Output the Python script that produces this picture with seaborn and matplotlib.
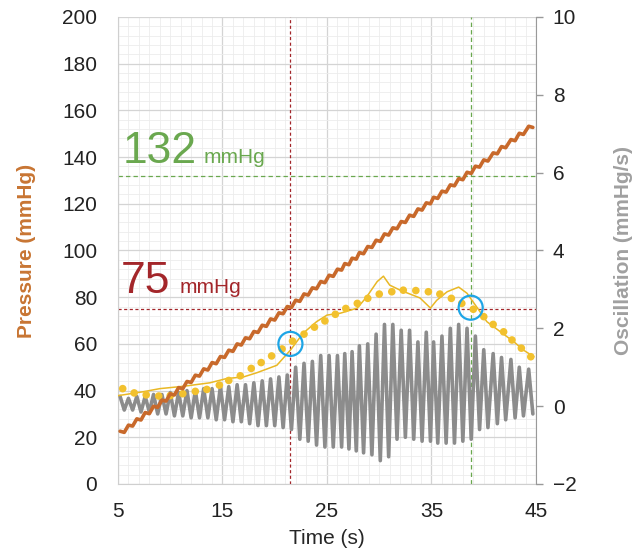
import numpy as np
import pandas as pd
import matplotlib
matplotlib.use('Agg')
import matplotlib.pyplot as plt
import seaborn as sns

# beat-by-beat oscillation (mmHg/s): peak and trough of each pulse
beat_t = [5.2, 6.0, 6.8, 7.6, 8.4, 9.2, 10.0, 10.8, 11.6, 12.4, 13.2, 14.0, 14.8, 15.6, 16.4, 17.2,
          18.0, 18.8, 19.6, 20.4, 21.2, 22.0, 22.8, 23.6, 24.4, 25.2, 26.0, 26.7, 27.4, 28.1, 28.9,
          29.7, 30.5, 31.3, 32.1, 32.9, 33.7, 34.5, 35.2, 36.0, 36.8, 37.6, 38.4, 39.2, 40.0, 40.9,
          41.7, 42.6, 43.4, 44.3]
osc_peak = [0.25, 0.2, 0.25, 0.25, 0.3, 0.3, 0.35, 0.35, 0.4, 0.4, 0.45, 0.45, 0.5, 0.5, 0.55, 0.55,
            0.6, 0.65, 0.7, 0.75, 0.8, 1.0, 1.1, 1.15, 1.3, 1.3, 1.3, 1.35, 1.4, 1.55, 1.6,
            1.85, 2.1, 2.1, 1.95, 1.95, 1.65, 1.9, 1.65, 1.8, 2.0, 2.1, 2.0, 1.8, 1.45, 1.35,
            1.25, 1.2, 1.0, 0.95]
trough_t = [5.6, 6.4, 7.2, 8.0, 8.8, 9.6, 10.4, 11.2, 12.0, 12.8, 13.6, 14.4, 15.2, 16.0, 16.8, 17.6,
            18.4, 19.2, 20.0, 20.8, 21.6, 22.4, 23.2, 24.0, 24.8, 25.6, 26.4, 27.1, 27.8, 28.5, 29.3,
            30.1, 30.9, 31.7, 32.5, 33.3, 34.1, 34.9, 35.6, 36.4, 37.2, 38.0, 38.8, 39.6, 40.4, 41.3,
            42.1, 43.0, 43.8, 44.7]
osc_trough = [-0.1, -0.1, -0.15, -0.15, -0.2, -0.2, -0.25, -0.25, -0.3, -0.3, -0.3, -0.35, -0.35, -0.4,
              -0.4, -0.45, -0.5, -0.5, -0.5, -0.55, -0.6, -0.85, -0.9, -1.0, -1.05, -1.05, -1.05, -1.1,
              -1.15, -1.2, -1.25, -1.4, -1.3, -0.85, -0.8, -0.85, -0.9, -0.9, -0.95, -0.95, -0.95,
              -0.9, -0.85, -0.6, -0.55, -0.45, -0.35, -0.3, -0.25, -0.2]

# cuff pressure (mmHg) at the same peak / trough instants
press_peak = [22.6, 25.2, 27.9, 30.6, 33.3, 35.9, 38.6, 41.3, 43.9, 46.6, 49.3, 52.0, 54.6, 57.3, 60.0,
              62.6, 65.3, 68.0, 70.7, 73.3, 76.0, 78.7, 81.4, 84.0, 86.7, 89.4, 92.0, 94.4, 96.7, 99.1,
              101.7, 104.4, 107.1, 109.7, 112.4, 115.1, 117.8, 120.4, 122.8, 125.4, 128.1, 130.8,
              133.5, 136.1, 138.8, 141.8, 144.5, 147.5, 150.2, 153.2]
press_trough = [22.1, 24.8, 27.4, 30.1, 32.8, 35.5, 38.1, 40.8, 43.5, 46.2, 48.8, 51.5, 54.2, 56.8, 59.5,
                62.2, 64.9, 67.5, 70.2, 72.9, 75.6, 78.2, 80.9, 83.6, 86.2, 88.9, 91.6, 93.9, 96.3, 98.6,
                101.3, 103.9, 106.6, 109.3, 112.0, 114.6, 117.3, 120.0, 122.3, 125.0, 127.7, 130.3,
                133.0, 135.7, 138.3, 141.4, 144.0, 147.0, 149.7, 152.7]

# envelope of the oscillation peaks (thin yellow)
env_t = [5.0, 7.4, 9.0, 11.25, 13.8, 15.4, 17.0, 18.3, 20.2, 21.5, 22.7, 24.0, 25.0, 26.3, 27.9, 28.8,
         29.8, 30.4, 31.0, 32.0, 33.9, 34.9, 35.5, 36.5, 37.6, 38.4, 39.4, 40.3, 41.6, 42.9, 43.8, 44.8]
env_v = [0.27, 0.37, 0.45, 0.51, 0.60, 0.71, 0.75, 0.86, 1.05, 1.44, 1.87, 2.17, 2.34, 2.39, 2.52, 2.81,
         3.20, 3.34, 3.11, 2.98, 2.78, 2.52, 2.72, 2.94, 3.06, 2.90, 2.52, 2.17, 1.91, 1.65, 1.44, 1.27]

# smoothed envelope (yellow dots)
dot_t = [5.45, 6.55, 7.7, 8.9, 10.0, 11.2, 12.4, 13.5, 14.7, 15.6, 16.7, 17.75, 18.7, 19.7, 20.7, 21.7,
         22.8, 23.8, 24.8, 25.8, 26.8, 27.9, 28.9, 30.0, 31.2, 32.3, 33.5, 34.7, 35.8, 36.9, 37.9, 39.0,
         40.0, 40.9, 41.9, 42.7, 43.6, 44.5]
dot_v = [0.45, 0.34, 0.29, 0.26, 0.27, 0.32, 0.38, 0.43, 0.54, 0.66, 0.78, 0.97, 1.12, 1.29, 1.47, 1.67,
         1.85, 2.03, 2.19, 2.36, 2.51, 2.64, 2.77, 2.88, 2.94, 2.98, 2.97, 2.94, 2.88, 2.77, 2.64, 2.49,
         2.30, 2.10, 1.91, 1.70, 1.49, 1.27]

# markers
map_t, map_p = 21.5, 75      # mean arterial pressure
sys_t, sys_p = 38.8, 132     # systolic
circle_t = [21.5, 38.75]
circle_p = [60, 75.5]

sns.set_style('white')
plt.rcParams['font.family'] = ['Liberation Sans', 'DejaVu Sans']

orange = '#c8692b'
gray = '#8c8c8c'
gold = '#f2c12e'
red = '#a3262a'
green = '#6aa84f'

osc = pd.DataFrame({'t': beat_t + trough_t, 'v': osc_peak + osc_trough})
press = pd.DataFrame({'t': beat_t + trough_t, 'p': press_peak + press_trough})

fig = plt.figure(figsize=(6.32, 5.53), dpi=100)
ax = fig.add_axes([0.1867, 0.1248, 0.6614, 0.8445])
ax2 = ax.twinx()

ax.set_xlim(5, 45)
ax.set_ylim(0, 200)
ax.set_xticks([5, 15, 25, 35, 45])
ax.set_xticks(np.arange(5, 46, 1), minor=True)
ax.set_yticks(np.arange(0, 201, 20))
ax.set_yticks(np.arange(0, 201, 4), minor=True)
ax.grid(which='major', color='#d4d4d4', lw=0.9)
ax.grid(which='minor', color='#ececec', lw=0.6)
ax.set_axisbelow(True)

# reference lines
ax.axhline(sys_p, color=green, lw=0.9, ls=(0, (3.5, 2.5)))
ax.axvline(sys_t, color=green, lw=0.9, ls=(0, (3.5, 2.5)))
ax.axhline(map_p, color=red, lw=0.9, ls=(0, (2.5, 2)))
ax.axvline(map_t, color=red, lw=0.9, ls=(0, (2.5, 2)))

ax.text(5.4, 137.5, '132', color=green, fontsize=32, va='baseline')
ax.text(13.2, 137.5, 'mmHg', color=green, fontsize=15, va='baseline')
ax.text(5.3, 81.8, '75', color=red, fontsize=32, va='baseline')
ax.text(10.9, 81.8, 'mmHg', color=red, fontsize=15, va='baseline')

# oscillation traces on the right axis
sns.lineplot(data=osc, x='t', y='v', ax=ax2, color=gray, lw=2.6, estimator=None)
sns.lineplot(x=env_t, y=env_v, ax=ax2, color='#e9b825', lw=1.1, estimator=None)
sns.scatterplot(x=dot_t, y=dot_v, ax=ax2, color=gold, s=30, edgecolor='none', zorder=4)

# pressure drawn on top, in left-axis units
sns.lineplot(data=press, x='t', y='p', ax=ax2, color=orange, lw=2.6, estimator=None,
             transform=ax.transData, zorder=5)
ax2.scatter(circle_t, circle_p, s=300, facecolors='none', edgecolors='#1ea5e6', lw=1.6,
            transform=ax.transData, zorder=6)

ax2.set_xlim(5, 45)
ax2.set_ylim(-2, 10)
ax2.set_yticks(np.arange(-2, 11, 2))

ax.set_xlabel('Time (s)', fontsize=15, labelpad=6)
ax.set_ylabel('Pressure (mmHg)', fontsize=15, fontweight='bold', color='#c87533', labelpad=19)
ax2.set_xlabel('')
ax2.set_ylabel('Oscillation (mmHg/s)', fontsize=15, fontweight='bold', color='#a0a0a0', labelpad=27)

ax.tick_params(axis='both', which='both', length=0, labelsize=15, labelcolor='#222222')
ax.tick_params(axis='y', pad=15)
ax.tick_params(axis='x', pad=13)
ax2.tick_params(axis='y', length=5, width=1, color='#999999', pad=7, labelsize=15, labelcolor='#222222')

for s in ['top', 'right']:
    ax.spines[s].set_visible(False)
for s in ['left', 'bottom']:
    ax.spines[s].set_color('#cfcfcf')
for s in ['top', 'left', 'bottom']:
    ax2.spines[s].set_visible(False)
ax2.spines['right'].set_color('#999999')

fig.savefig('out.png', dpi=100)
